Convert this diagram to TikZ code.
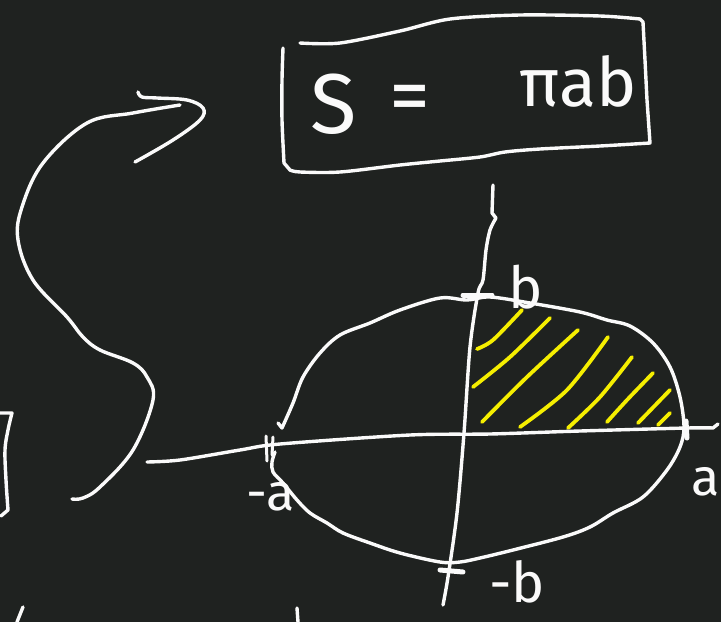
\documentclass[tikz,border=0pt]{standalone}
\usepackage{fontspec}
\setmainfont{Fira Sans}
\definecolor{board}{RGB}{31,34,32}
\definecolor{chalk}{RGB}{250,250,250}
\definecolor{hl}{RGB}{245,238,0}
\begin{document}
\begin{tikzpicture}[x=1pt,y=-1pt,
  stroke/.style={draw=chalk,line width=3.4pt,line cap=round,line join=round},
  tickmark/.style={draw=chalk,line width=5pt,line cap=round},
  hatch/.style={draw=hl,line width=3.8pt,line cap=round,line join=round},
  lbl/.style={text=chalk,inner sep=0pt,font=\fontsize{#1}{#1}\selectfont},
]
\fill[board] (0,0) rectangle (721,622);
\useasboundingbox (0,0) rectangle (721,622);

% formula box
\draw[stroke] plot[smooth,tension=0.5] coordinates {(300,43) (340,43) (400,31) (450,19) (520,15) (600,16) (640,19)}
  -- (643,22) -- (645,60) -- (647,100) -- (650,143)
  -- plot[smooth,tension=0.5] coordinates {(650,143) (600,146) (540,149) (505,152) (480,157) (440,161) (400,165) (340,172) (300,172) (290,170)}
  -- (284,163) -- plot[smooth,tension=0.5] coordinates {(284,163) (282,120) (282,80) (283,48)};
\node[lbl=85] (S) at (334,104) {S};
\node[lbl=82] (eq) at (410,104) {=};
\node[lbl=68,anchor=base west] (pab) at (519,106) {πab};

% curved arrow
\draw[stroke] plot[smooth,tension=0.6] coordinates {(72,499) (83,498) (100,487) (133,450) (153,400) (147,377) (133,363) (100,350) (83,337) (67,317) (33,280) (18,240) (22,207) (43,163) (87,123) (133,113) (180,105)};
\draw[stroke] plot[smooth,tension=0.6] coordinates {(138,92) (142,97) (157,98) (187,100) (203,108) (200,120) (173,140) (135,162)};

% left bracket and bottom marks
\draw[stroke] (0,413) -- (12,413) -- plot[smooth,tension=0.6] coordinates {(12,413) (8,430) (5,450) (6,480) (8,510)} -- (1,516);
\draw[stroke] (23,607) -- (17,622);
\draw[stroke] (297,608) -- (298,622);

% hatching
\draw[hatch] plot[smooth] coordinates {(477,349) (493,340) (522,310)};
\draw[hatch] plot[smooth] coordinates {(473,387) (510,357) (550,318)};
\draw[hatch] plot[smooth] coordinates {(482,422) (527,377) (578,330)};
\draw[hatch] plot[smooth] coordinates {(520,427) (567,390) (608,337)};
\draw[hatch] plot[smooth] coordinates {(568,428) (600,397) (632,357)};
\draw[hatch] plot[smooth] coordinates {(607,422) (627,400) (653,373)};
\draw[hatch] (638,423) -- (670,390);
\draw[hatch] (658,425) -- (670,413);

% axes
\draw[stroke] plot[smooth,tension=0.5] coordinates {(147,462) (180,460) (240,450) (280,444) (410,435) (490,434) (580,431) (687,428) (713,428)} -- (718,424);
\draw[stroke] (493,185) -- (492,213) -- (496,218) -- plot[smooth,tension=0.5] coordinates {(496,218) (490,230) (486,250) (483,280) (478,293) (470,347) (464,433) (457,513) (448,577) (443,605)};

% ellipse
\draw[stroke] (278,423) -- plot[smooth,tension=0.55] coordinates {(282,428) (293,403) (303,377) (320,353) (340,335) (370,323) (400,310) (440,298) (467,300) (490,297) (530,303) (580,312) (607,320) (630,326) (653,343) (670,367) (680,397) (684,427) (680,447) (667,470) (643,497) (613,513) (590,527) (563,537) (513,550) (480,558) (460,562) (440,562) (400,553) (370,543) (343,533) (327,523) (310,513) (297,500) (283,483) (273,472) (272,462) (275,452)};

% tick marks
\draw[tickmark] (463,295) -- (492,295);
\draw[tickmark] (440,570) -- (463,572);
\draw[tickmark] (686,421) -- (687,438);
\draw[stroke,line width=3pt] (266,436) -- (267,461);
\draw[stroke,line width=3pt] (273,437) -- (272,455);

% labels
\node[lbl=58] (lb) at (526,287) {b};
\node[lbl=56] (lmb) at (517,582) {-b};
\node[lbl=52] (lma) at (271,497) {-a};
\node[lbl=52] (la) at (706,482) {a};
\end{tikzpicture}
\end{document}
